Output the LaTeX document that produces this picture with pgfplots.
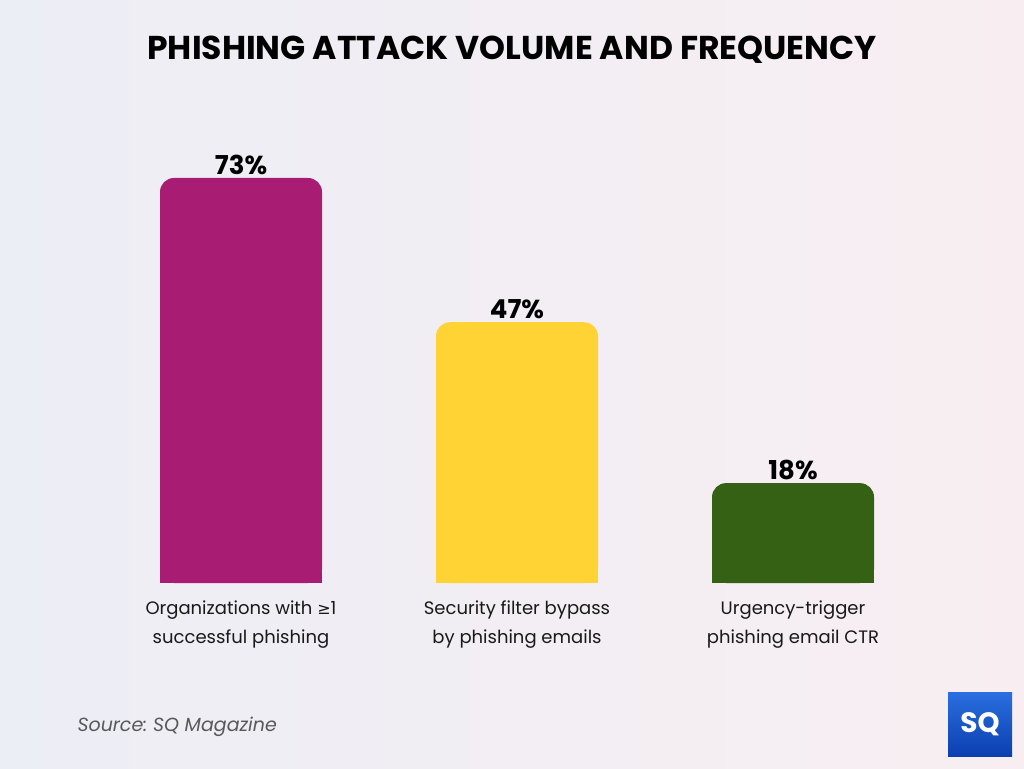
\documentclass[border=0pt]{standalone}
\usepackage{pgfplots}
\pgfplotsset{compat=1.18}
\usepackage{fontspec}
\setmainfont{Poppins}
\newfontfamily\sym{DejaVu Sans}
\frenchspacing
\definecolor{cA}{HTML}{A81C74}
\definecolor{cB}{HTML}{FFD334}
\definecolor{cC}{HTML}{346114}
\definecolor{bgL}{HTML}{ECEEF5}
\definecolor{bgR}{HTML}{F8EEF1}
\definecolor{logoA}{HTML}{2A6FE0}
\definecolor{logoB}{HTML}{0B3FB0}
\begin{document}
\begin{tikzpicture}[x=1pt,y=1pt]
\shade[left color=bgL, right color=bgR] (0,0) rectangle (1024,768);
\node[font=\fontsize{33}{36}\selectfont\bfseries] at (512,718) {PHISHING ATTACK VOLUME AND FREQUENCY};
\begin{axis}[
  at={(0pt,185pt)}, anchor=south west,
  width=1024pt, height=583pt, scale only axis,
  xmin=-0.8732, xmax=2.8370, ymin=0, ymax=105.08,
  axis line style={draw=none}, major tick length=0pt,
  ytick=\empty, xtick={0,1,2},
  xticklabels={{Organizations with {\sym\fontsize{16}{29}\selectfont ≥}1\\successful phishing},
               {Security filter bypass\\by phishing emails},
               {Urgency-trigger\\phishing email CTR}},
  xticklabel style={align=center, anchor=north, yshift=-14pt,
     font=\fontsize{18}{29}\selectfont, text=black!90},
  clip=false,
  /pgf/number format/assume math mode=true,
  nodes near coords={\pgfmathprintnumber{\pgfplotspointmeta}\%},
  every node near coord/.append style={font=\fontsize{26}{30}\selectfont\bfseries, text=black, anchor=south, yshift=0pt},
]
\addplot[ybar, bar width=162pt, fill=cA, draw=none, rounded corners=14pt] coordinates {(0,73)};
\addplot[ybar, bar width=162pt, fill=cB, draw=none, rounded corners=14pt] coordinates {(1,47)};
\addplot[ybar, bar width=162pt, fill=cC, draw=none, rounded corners=14pt] coordinates {(2,18)};
\begin{scope}
\clip (axis cs:-1,0) rectangle (axis cs:3,5);
\addplot[ybar, bar width=162pt, fill=cA, draw=none, nodes near coords={}] coordinates {(0,73)};
\addplot[ybar, bar width=162pt, fill=cB, draw=none, nodes near coords={}] coordinates {(1,47)};
\addplot[ybar, bar width=162pt, fill=cC, draw=none, nodes near coords={}] coordinates {(2,18)};
\end{scope}
\end{axis}
\node[anchor=west, font=\fontsize{19}{22}\selectfont\itshape, text=black!65] at (74,41) {Source: SQ Magazine};
\shade[top color=logoA, bottom color=logoB] (948,12) rectangle (1012,76);
\node[text=white, font=\fontsize{28}{30}\selectfont\bfseries] at (980,44) {SQ};
\pgfresetboundingbox
\path[use as bounding box] (0,0) rectangle (1024,768);
\end{tikzpicture}
\end{document}
